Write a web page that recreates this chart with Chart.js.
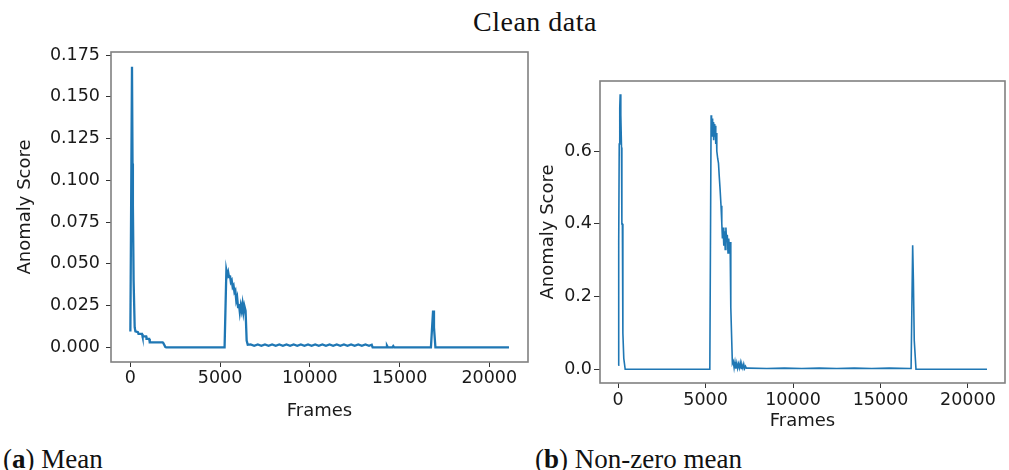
<!DOCTYPE html>
<html>
<head>
<meta charset="utf-8">
<script src="https://cdn.jsdelivr.net/npm/chart.js@4.4.1/dist/chart.umd.min.js"></script>
<style>
  html, body { margin: 0; padding: 0; background: #fff; }
  body { width: 1009px; height: 470px; position: relative; overflow: hidden; }
  .txt { position: absolute; font-family: "Liberation Serif", serif; font-size: 27px; line-height: 30px; color: #111; white-space: nowrap; }
  #meanChart { position: absolute; left: 0; top: 0; }
  #nzWrap { position: absolute; left: 530px; top: 0; width: 479px; height: 426px; overflow: hidden; }
</style>
</head>
<body>
<div class="txt" style="left:535px; top:7px; font-size:28px; letter-spacing:0.5px; transform:translateX(-50%);">Clean data</div>
<canvas id="meanChart" width="540" height="440"></canvas>
<div id="nzWrap"><canvas id="nzChart" width="479" height="440"></canvas></div>
<div class="txt" style="left:3px; top:444px;">(<b>a</b>) Mean</div>
<div class="txt" style="left:535px; top:444px;">(<b>b</b>) Non-zero mean</div>

<script>
    "use strict";

    // tick labels
    const frameTicks = [0, 5000, 10000, 15000, 20000];
    const meanTicks = [0, 0.025, 0.05, 0.075, 0.1, 0.125, 0.15, 0.175];
    const nzTicks = [0, 0.2, 0.4, 0.6];

    // (a) mean anomaly score
    const meanFrames = [
        0, 90, 120, 140, 180, 240, 280, 420, 450, 650, 680, 880, 900, 1050, 1080, 1800, 1840, 1950, 2000,
        5250, 5350, 5400, 5450, 5500, 5550, 5600, 5650, 5700, 5750, 5800, 5850, 5900, 5950, 6000, 6050,
        6100, 6150, 6200, 6250, 6300, 6350, 6420, 6480, 6540,
        6700, 6900, 7100, 7300, 7500, 7700, 7900, 8100, 8300, 8500, 8700, 8900, 9100, 9300, 9500, 9700, 9900,
        10100, 10300, 10500, 10700, 10900, 11100, 11300, 11500, 11700, 11900, 12100, 12300, 12500, 12700, 12900,
        13100, 13300, 13450, 13500, 14250, 14300, 14350, 14600, 14650, 14700, 16750, 16870, 16920, 17000, 21100
    ];
    const meanScores = [
        0.0095, 0.168, 0.11, 0.085, 0.04, 0.012, 0.0095, 0.009, 0.008, 0.008, 0.0065, 0.0065, 0.005, 0.005, 0.003, 0.003, 0.0025, 0.0002, 0,
        0, 0.046, 0.043, 0.045, 0.042, 0.043, 0.039, 0.040, 0.036, 0.037, 0.033, 0.034, 0.028, 0.030, 0.024, 0.026,
        0.021, 0.025, 0.022, 0.026, 0.021, 0.025, 0.022, 0.004, 0.0015,
        0.0017, 0.0009, 0.0017, 0.0009, 0.0017, 0.0009, 0.0017, 0.0009, 0.0017, 0.0009, 0.0017, 0.0009, 0.0017, 0.0009, 0.0017, 0.0009, 0.0017,
        0.0009, 0.0017, 0.0009, 0.0017, 0.0009, 0.0017, 0.0009, 0.0017, 0.0009, 0.0017, 0.0009, 0.0017, 0.0009, 0.0017, 0.0009,
        0.0017, 0.0009, 0.0015, 0, 0, 0.001, 0, 0, 0.0008, 0, 0, 0.022, 0.012, 0, 0
    ];

    // (b) non-zero mean anomaly score
    const nzFrames = [
        0, 30, 60, 90, 114, 140, 160, 190, 211, 240, 268, 320, 400,
        5240, 5314, 5340, 5370, 5400, 5430, 5460, 5490, 5520, 5550, 5580, 5610, 5640,
        5690, 5735, 5780, 5830, 5880, 5925,
        5960, 6000, 6040, 6080, 6120, 6160, 6200, 6240, 6280, 6320, 6360, 6400,
        6440, 6530,
        6580, 6630, 6680, 6730, 6780, 6830, 6880, 6930, 6980, 7030, 7080, 7130, 7180, 7230, 7280, 7330, 7430,
        8500, 9500, 10500, 11500, 12500, 13500, 14500, 15500, 16700,
        16750, 16840, 16880, 16930, 17030, 21090
    ];
    const nzScores = [
        0.011, 0.35, 0.62, 0.72, 0.757, 0.68, 0.70, 0.61, 0.40, 0.40, 0.10, 0.03, 0,
        0, 0.699, 0.65, 0.69, 0.64, 0.68, 0.63, 0.675, 0.64, 0.67, 0.62, 0.65, 0.60,
        0.58, 0.567, 0.53, 0.493, 0.45, 0.402,
        0.36, 0.39, 0.34, 0.38, 0.33, 0.39, 0.35, 0.37, 0.32, 0.36, 0.33, 0.35,
        0.17, 0.016,
        0.022, 0.004, 0.02, 0.002, 0.017, 0.003, 0.015, 0.004, 0.018, 0.002, 0.012, 0.003, 0.014, 0.002, 0.008, 0.003, 0.003,
        0.002, 0.003, 0.002, 0.003, 0.002, 0.003, 0.002, 0.003, 0.002,
        0.002, 0.341, 0.25, 0.08, 0, 0
    ];

    const tickFont = { family: 'DejaVu Sans', size: 17.5 };
    const titleFont = { family: 'DejaVu Sans', size: 18 };
    const inkColor = '#1a1a1a';

    // matplotlib-like frame round the plotting area
    const boxPlugin = {
        id: 'axesBox',
        afterDraw: function (chart) {
            const a = chart.chartArea, ctx = chart.ctx;
            ctx.save();
            ctx.strokeStyle = '#808080';
            ctx.lineWidth = 1.6;
            ctx.strokeRect(a.left, a.top, a.right - a.left, a.bottom - a.top);
            ctx.restore();
        }
    };

    function makeScoreChart(ctx, frames, scores, c) {
        return new Chart(ctx, {
            type: 'line',
            data: {
                datasets: [{
                    data: frames.map((f, i) => ({ x: f, y: scores[i] })),
                    borderColor: '#1f77b4',
                    borderWidth: c.lineWidth,
                    pointRadius: 0,
                    tension: 0,
                    fill: false
                }]
            },
            plugins: [boxPlugin],
            options: {
                responsive: false,
                animation: false,
                events: [],
                layout: { padding: c.padding },
                plugins: { legend: { display: false }, tooltip: { enabled: false } },
                scales: {
                    x: {
                        type: 'linear',
                        min: c.xMin,
                        max: c.xMax,
                        afterBuildTicks: s => { s.ticks = frameTicks.map(v => ({ value: v })); },
                        afterFit: s => { s.height = c.xAxisHeight; },
                        grid: { drawOnChartArea: false, tickLength: 5, color: '#333' },
                        border: { display: false },
                        ticks: {
                            font: tickFont, color: inkColor, padding: c.xTickPad,
                            maxRotation: 0, autoSkip: false,
                            callback: v => String(v)
                        },
                        title: { display: true, text: 'Frames', font: titleFont, color: inkColor, padding: 0 }
                    },
                    y: {
                        min: c.yMin,
                        max: c.yMax,
                        afterBuildTicks: s => { s.ticks = c.yTicks.map(v => ({ value: v })); },
                        afterFit: s => { s.width = c.yAxisWidth; },
                        grid: { drawOnChartArea: false, tickLength: c.yTickLength, color: '#333' },
                        border: { display: false },
                        ticks: {
                            font: tickFont, color: inkColor, padding: c.yTickPad,
                            callback: v => v.toFixed(c.digits)
                        },
                        title: { display: true, text: 'Anomaly Score', font: titleFont, color: inkColor, padding: 0 }
                    }
                }
            }
        });
    }

    makeScoreChart(document.getElementById('meanChart').getContext('2d'), meanFrames, meanScores, {
        lineWidth: 2.3,
        padding: { left: 15, right: 12, top: 52, bottom: 18 },
        xMin: -1080, xMax: 22160,
        yMin: -0.0088, yMax: 0.1768,
        yTicks: meanTicks, digits: 3,
        xAxisHeight: 60, yAxisWidth: 96,
        xTickPad: 1, yTickLength: 5, yTickPad: 6
    });

    makeScoreChart(document.getElementById('nzChart').getContext('2d'), nzFrames, nzScores, {
        lineWidth: 1.6,
        padding: { left: 8, right: 4, top: 81, bottom: 8 },
        xMin: -1040, xMax: 22120,
        yMin: -0.0378, yMax: 0.7932,
        yTicks: nzTicks, digits: 1,
        xAxisHeight: 49, yAxisWidth: 62,
        xTickPad: 2, yTickLength: 6, yTickPad: 2
    });
</script>
</body>
</html>
